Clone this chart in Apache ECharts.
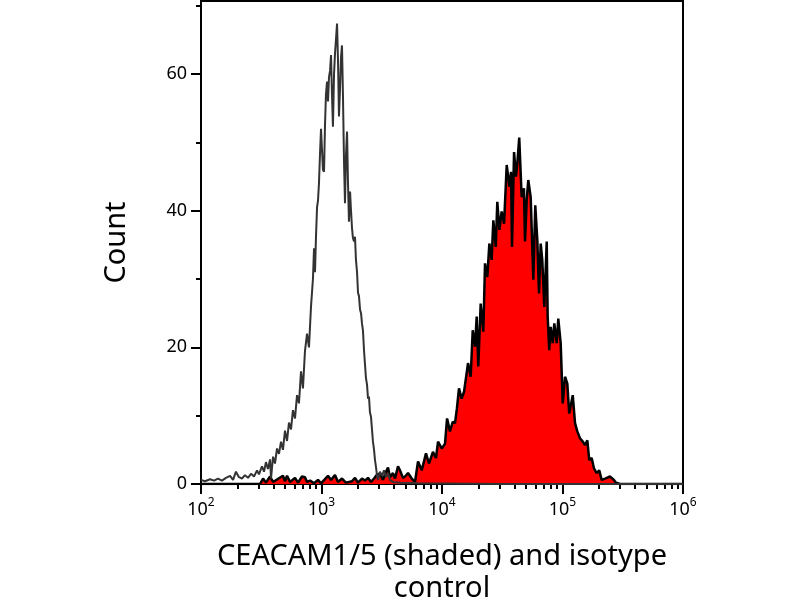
<!DOCTYPE html>
<html>
<head>
<meta charset="utf-8">
<script src="https://cdn.jsdelivr.net/npm/echarts/dist/echarts.min.js"></script>
<style>
  html, body { margin: 0; padding: 0; background: #fff; }
  #chart { width: 800px; height: 600px; }
</style>
</head>
<body>
<div id="chart"></div>
<script>
// Isotype control (grey line): log10 intensity and count
var ctrlExp = [
  2.000, 2.033, 2.075, 2.108, 2.141, 2.174, 2.207, 2.241, 2.266, 2.290,
  2.315, 2.340, 2.365, 2.390, 2.415, 2.440, 2.465, 2.481, 2.506, 2.523,
  2.539, 2.556, 2.573, 2.581, 2.598, 2.614, 2.631, 2.647, 2.664, 2.680,
  2.697, 2.714, 2.730, 2.747, 2.763, 2.780, 2.797, 2.813, 2.830, 2.846,
  2.863, 2.880, 2.896, 2.913, 2.929, 2.938, 2.946, 2.954, 2.963, 2.971,
  2.979, 2.988, 2.996, 3.004, 3.012, 3.021, 3.029, 3.037, 3.046, 3.054,
  3.062, 3.071, 3.079, 3.087, 3.095, 3.104, 3.112, 3.120, 3.129, 3.137,
  3.145, 3.154, 3.162, 3.170, 3.178, 3.187, 3.195, 3.203, 3.212, 3.220,
  3.228, 3.237, 3.245, 3.253, 3.261, 3.270, 3.278, 3.286, 3.295, 3.303,
  3.311, 3.320, 3.328, 3.336, 3.344, 3.353, 3.361, 3.369, 3.378, 3.386,
  3.394, 3.402, 3.411, 3.419, 3.427, 3.436, 3.444, 3.452, 3.461, 3.469,
  3.485, 3.502, 3.519, 3.535, 3.552, 3.568, 3.593, 3.651, 3.800, 4.500,
  5.500, 6.000
];
var ctrlCount = [
  0.6, 0.4, 0.7, 0.5, 0.8, 0.5, 0.9, 1.2, 0.6, 1.8,
  1.0, 0.8, 1.3, 0.9, 1.5, 1.1, 2.0, 1.4, 2.6, 1.8,
  3.2, 2.2, 3.6, 0.8, 4.0, 3.0, 5.2, 4.4, 6.2, 5.0,
  7.8, 6.3, 9.0, 8.0, 10.8, 9.6, 13.0, 11.8, 16.5, 14.0,
  19.5, 22.0, 20.0, 26.0, 30.0, 34.5, 31.0, 36.0, 40.5, 41.5,
  44.0, 48.5, 52.0, 49.0, 46.0, 45.7, 52.5, 57.0, 58.9, 56.0,
  59.5, 60.5, 62.8, 57.0, 52.3, 60.0, 63.0, 65.0, 67.4, 62.0,
  53.8, 58.0, 62.5, 64.2, 57.0, 47.0, 41.1, 48.0, 51.6, 44.0,
  38.4, 42.8, 40.0, 37.5, 36.0, 35.5, 36.2, 32.8, 31.0, 28.0,
  27.5, 25.5, 25.0, 23.5, 22.5, 19.5, 17.5, 15.5, 14.5, 12.5,
  12.8, 10.5, 9.8, 8.0, 6.2, 5.0, 3.5, 2.5, 1.2, 0.6,
  1.8, 1.2, 2.0, 1.0, 1.6, 0.6, 0.3, 0.2, 0.1, 0.0,
  0.0, 0.0
];

// CEACAM1/5 (red shaded): log10 intensity and count
var ceaExp = [
  2.000, 2.490, 2.515, 2.539, 2.573, 2.598, 2.680, 2.697, 2.714, 2.739,
  2.780, 2.805, 2.838, 2.863, 2.880, 2.905, 2.938, 2.971, 2.996, 3.054,
  3.079, 3.112, 3.137, 3.170, 3.203, 3.253, 3.278, 3.303, 3.336, 3.361,
  3.386, 3.411, 3.436, 3.461, 3.485, 3.510, 3.535, 3.552, 3.568, 3.593,
  3.610, 3.635, 3.651, 3.676, 3.693, 3.718, 3.749, 3.776, 3.801, 3.832,
  3.867, 3.892, 3.925, 3.950, 3.967, 3.998, 4.025, 4.042, 4.066, 4.089,
  4.108, 4.124, 4.141, 4.163, 4.183, 4.199, 4.216, 4.238, 4.255, 4.274,
  4.288, 4.301, 4.321, 4.343, 4.357, 4.376, 4.393, 4.412, 4.426, 4.446,
  4.459, 4.476, 4.495, 4.515, 4.537, 4.559, 4.573, 4.581, 4.598, 4.614,
  4.625, 4.641, 4.661, 4.680, 4.689, 4.703, 4.716, 4.736, 4.758, 4.774,
  4.791, 4.805, 4.819, 4.832, 4.849, 4.869, 4.877, 4.890, 4.902, 4.919,
  4.932, 4.952, 4.965, 4.985, 5.002, 5.021, 5.040, 5.056, 5.085, 5.104,
  5.123, 5.145, 5.168, 5.187, 5.206, 5.222, 5.242, 5.261, 5.284, 5.305,
  5.325, 5.353, 5.394, 5.427, 5.444, 5.477, 6.000
];
var ceaCount = [
  0.0, 0.0, 0.8, 0.2, 1.1, 0.3, 1.2, 0.4, 1.2, 0.3,
  0.9, 0.2, 1.1, 1.0, 0.3, 0.5, 0.1, 0.6, 0.1, 1.2,
  0.6, 1.3, 0.3, 0.8, 0.2, 0.4, 0.9, 0.2, 0.8, 0.5,
  0.9, 0.3, 0.8, 1.4, 1.5, 0.6, 1.8, 2.4, 1.0, 1.6,
  0.8, 2.6, 2.0, 0.9, 1.1, 1.6, 0.8, 0.3, 3.3, 2.0,
  4.5, 3.0, 4.7, 3.8, 6.2, 5.2, 5.9, 9.6, 7.7, 9.1,
  8.9, 11.1, 14.0, 12.5, 13.5, 13.3, 17.7, 15.7, 22.5, 20.1,
  24.5, 17.2, 26.4, 22.3, 32.3, 30.3, 35.2, 32.8, 38.6, 34.7,
  41.3, 37.2, 39.9, 38.1, 46.7, 43.5, 45.7, 34.7, 48.6, 45.0,
  46.9, 50.7, 42.0, 43.3, 35.5, 41.6, 44.5, 42.0, 29.9, 40.8,
  35.7, 27.9, 35.2, 32.8, 25.9, 35.5, 24.5, 19.6, 23.0, 20.6,
  23.5, 20.6, 24.2, 20.6, 11.8, 15.7, 14.7, 10.3, 13.0, 8.9,
  7.7, 6.7, 6.2, 5.7, 6.4, 3.5, 3.8, 2.3, 1.6, 2.0,
  0.6, 0.8, 1.1, 0.6, 0.2, 0.0, 0.0
];

// axis ticks
var decades = [2, 3, 4, 5];
var minorSteps = [2, 3, 4, 5, 6, 7, 8, 9];
var yMajor = [0, 20, 40, 60];
var yMinor = [10, 30, 50, 70];

var minorExp = [];
decades.forEach(function (d) {
  minorSteps.forEach(function (k) { minorExp.push(d + Math.log10(k)); });
});

function pairs(xs, ys) {
  return xs.map(function (x, i) { return [x, ys[i]]; });
}

var font = "Noto Sans";
var chart = echarts.init(document.getElementById("chart"));

var option = {
  animation: false,
  backgroundColor: "#fff",
  grid: {
    left: 201, right: 117, top: 1, bottom: 116,
    outerBoundsMode: "none",
    containLabel: false,
    show: true, borderColor: "#000", borderWidth: 2
  },
  xAxis: [
    {
      type: "value", min: 2, max: 6, interval: 1,
      axisLine: { show: true, lineStyle: { color: "#000", width: 2 } },
      axisTick: { show: true, length: 10, lineStyle: { color: "#000", width: 2 } },
      splitLine: { show: false },
      axisLabel: {
        margin: 13,
        formatter: function (v) { return "{b|10}{s|" + v + "}"; },
        rich: {
          b: { fontSize: 18, fontFamily: font, color: "#000", padding: [4, 0, 0, 0] },
          s: { fontSize: 12, fontFamily: font, color: "#000", verticalAlign: "top" }
        }
      },
      name: "CEACAM1/5 (shaded) and isotype\ncontrol",
      nameLocation: "middle",
      nameGap: 57,
      nameTextStyle: { fontSize: 29, lineHeight: 32, fontFamily: font, color: "#000" }
    },
    {
      type: "value", min: 2, max: 6, position: "bottom",
      axisLine: { show: false },
      axisTick: { show: true, length: 5, customValues: minorExp, lineStyle: { color: "#000", width: 2 } },
      axisLabel: { show: false },
      splitLine: { show: false }
    }
  ],
  yAxis: [
    {
      type: "value", min: 0, max: 70.7, interval: 20, position: "left",
      axisLine: { show: true, lineStyle: { color: "#000", width: 2 } },
      axisTick: { show: true, length: 10, customValues: yMajor, lineStyle: { color: "#000", width: 2 } },
      axisLabel: { customValues: yMajor, margin: 14, fontSize: 18, fontFamily: font, color: "#000" },
      splitLine: { show: false },
      name: "Count",
      nameLocation: "middle",
      nameRotate: 90,
      nameGap: 70,
      nameTextStyle: { fontSize: 29, fontFamily: font, color: "#000" }
    },
    {
      type: "value", min: 0, max: 70.7, position: "left",
      axisLine: { show: false },
      axisTick: { show: true, length: 5, customValues: yMinor, lineStyle: { color: "#000", width: 2 } },
      axisLabel: { show: false },
      splitLine: { show: false }
    }
  ],
  series: [
    {
      name: "CEACAM1/5",
      type: "line",
      xAxisIndex: 0, yAxisIndex: 0,
      symbol: "none",
      lineStyle: { color: "#000", width: 2.5 },
      areaStyle: { color: "#ff0000", opacity: 1 },
      data: pairs(ceaExp, ceaCount),
      z: 2
    },
    {
      name: "isotype control",
      type: "line",
      xAxisIndex: 0, yAxisIndex: 0,
      symbol: "none",
      lineStyle: { color: "#333", width: 2 },
      data: pairs(ctrlExp, ctrlCount),
      z: 3
    }
  ]
};

chart.setOption(option);
</script>
</body>
</html>
